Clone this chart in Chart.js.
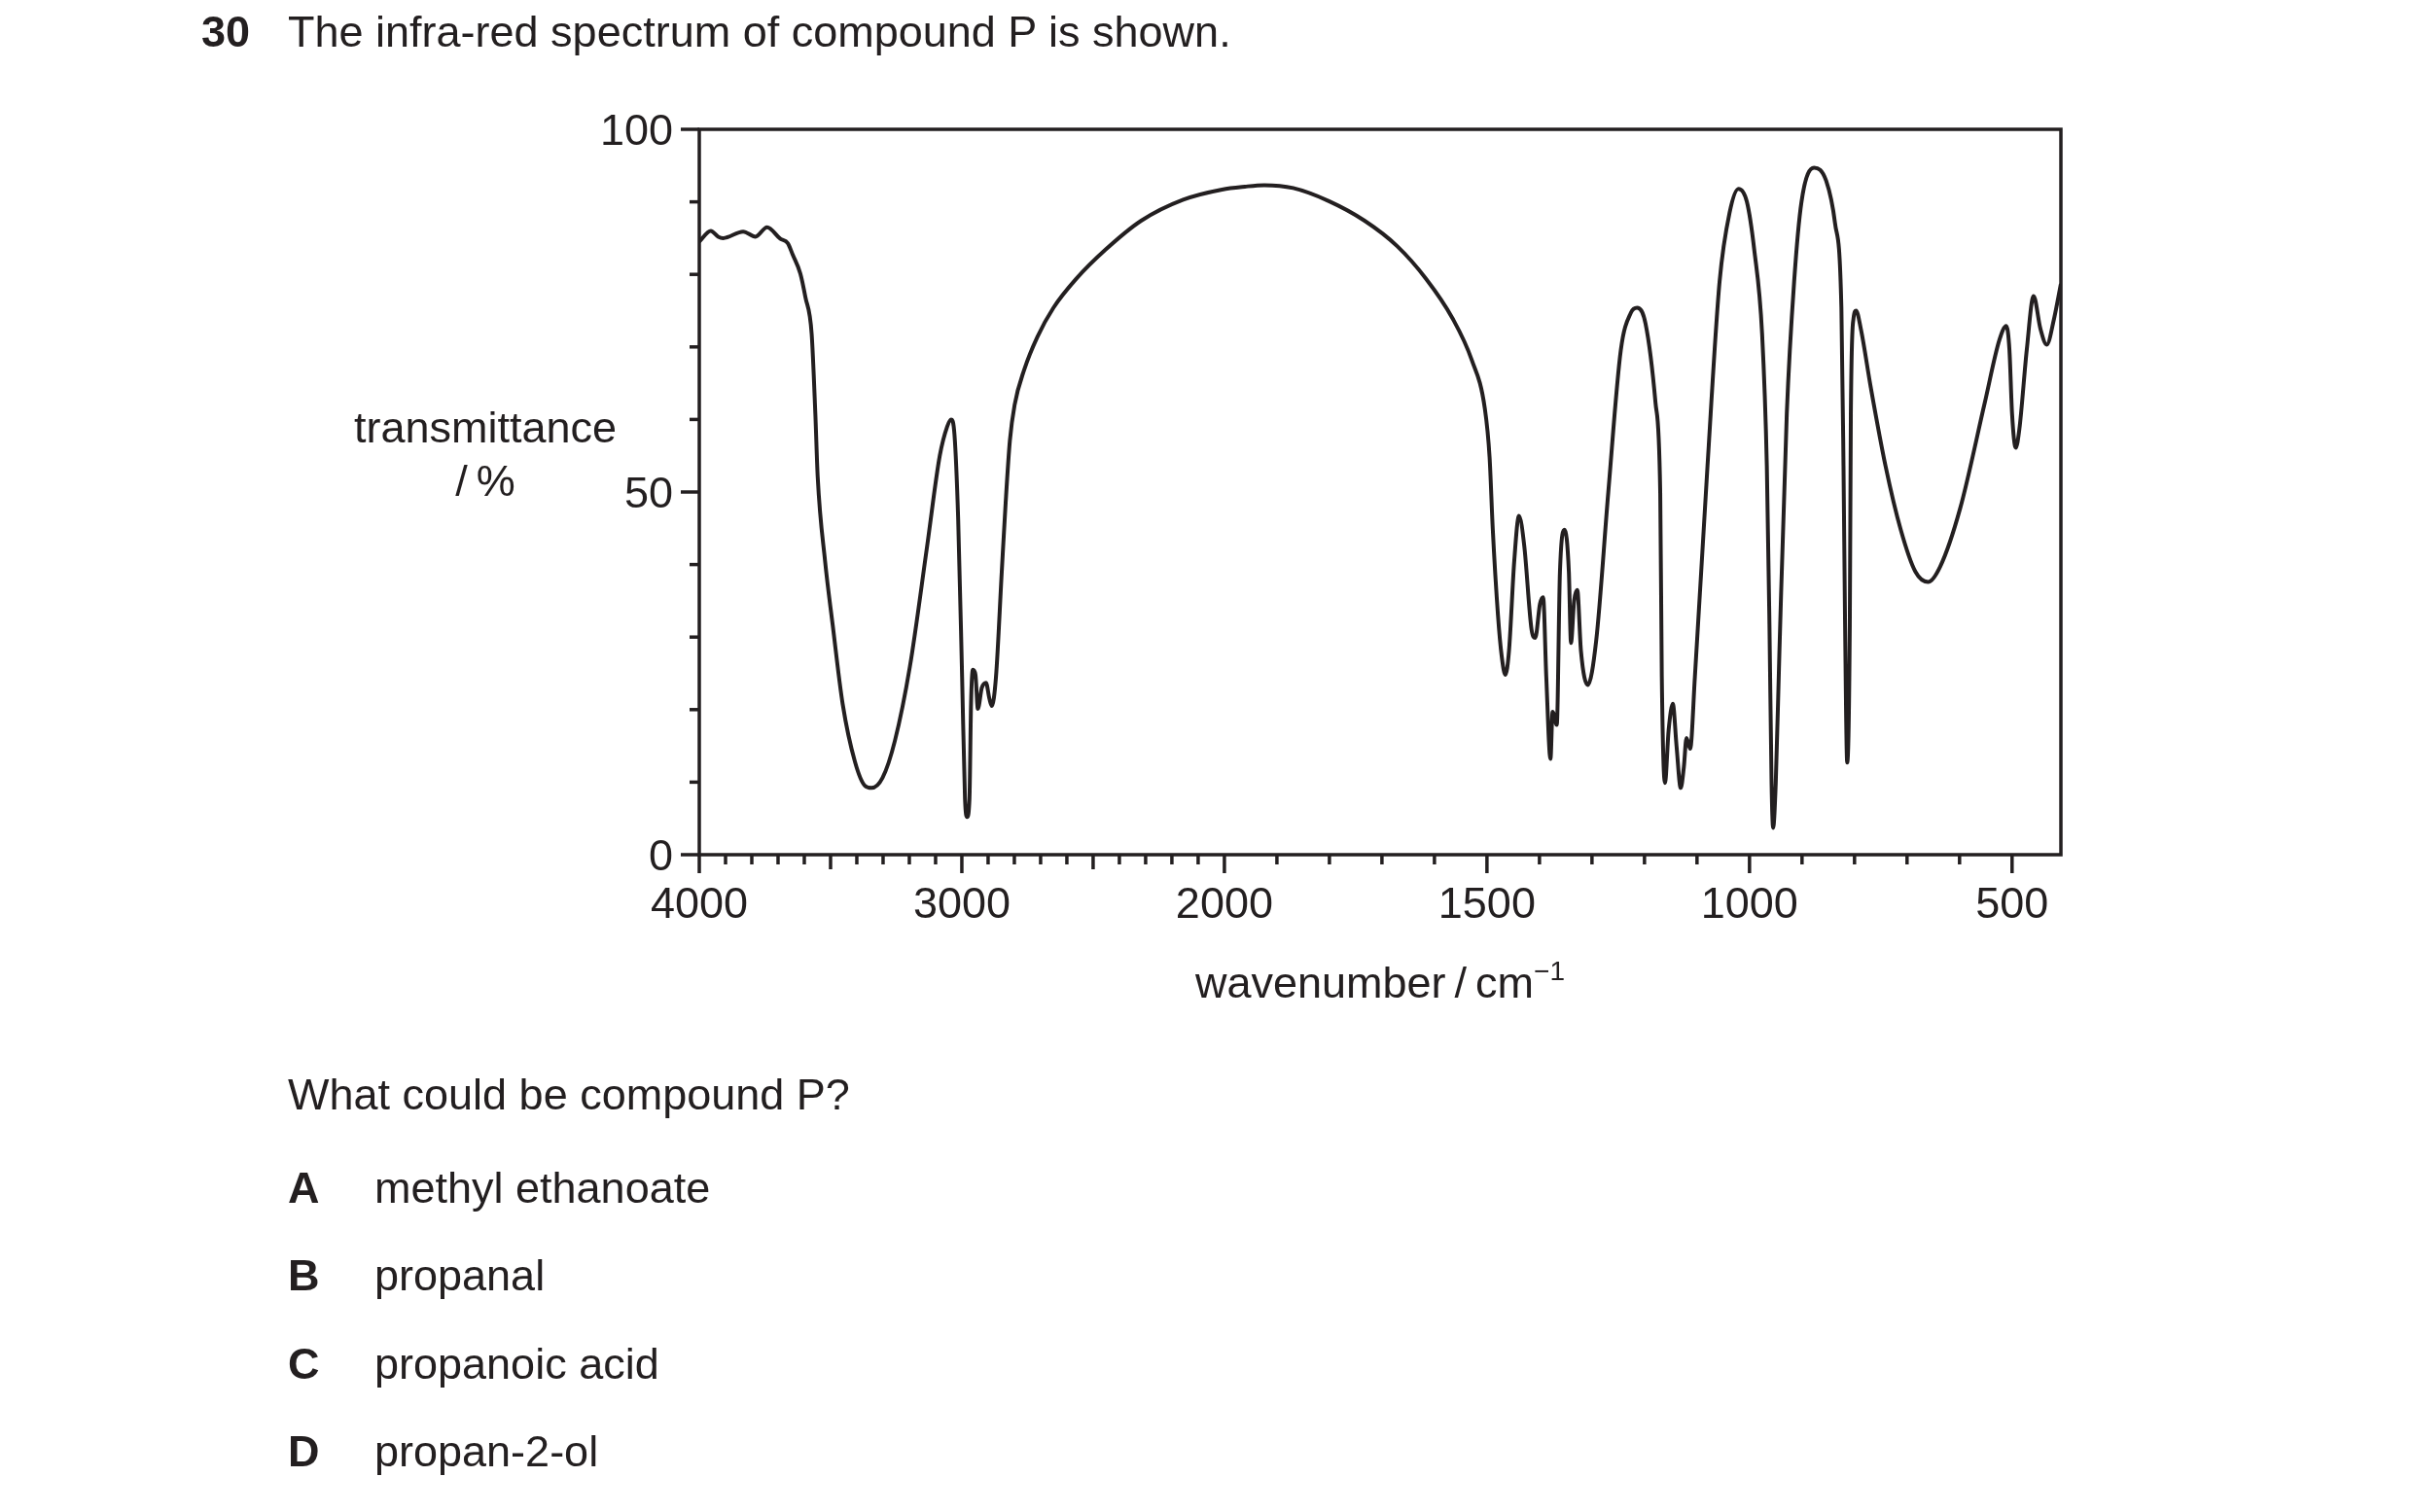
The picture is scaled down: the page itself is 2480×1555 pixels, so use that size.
<!DOCTYPE html>
<html lang="en">
<head>
    <meta charset="UTF-8">
    <title>Infra-red spectrum of compound P</title>
    <script src="https://cdn.jsdelivr.net/npm/chart.js@4.4.1/dist/chart.umd.min.js"></script>
    <style>
        body { margin: 0; background: #fff; color: #231f20; font-family: Arial, "Liberation Sans", sans-serif; }
        .page { position: relative; width: 2480px; height: 1555px; overflow: hidden; }
        #chartBox { position: absolute; left: 0; top: 0; width: 2480px; height: 1555px; }
        .txt { position: absolute; font-size: 45px; line-height: 1; white-space: nowrap; }
        .b { font-weight: bold; }
        .c { text-align: center; }
        sup { font-size: 28px; vertical-align: 0; position: relative; top: -18px; }
    </style>
</head>
<body>
<div class="page">
    <div id="chartBox"><canvas id="irChart"></canvas></div>

    <div class="txt b" style="left:207px; top:10px;">30</div>
    <div class="txt" style="left:296px; top:10px;">The infra-red spectrum of compound P is shown.</div>

    <div class="txt c" style="left:349px; top:417px; width:300px;">transmittance</div>
    <div class="txt c" style="left:349px; top:472px; width:300px;">/&thinsp;%</div>
    <div class="txt c" style="left:1119px; top:988px; width:600px;">wavenumber&thinsp;/&thinsp;cm<sup>&minus;1</sup></div>

    <div class="txt" style="left:296px; top:1103px;">What could be compound P?</div>
    <div class="txt b" style="left:296px; top:1199px;">A</div>
    <div class="txt" style="left:385px; top:1199px;">methyl ethanoate</div>
    <div class="txt b" style="left:296px; top:1289px;">B</div>
    <div class="txt" style="left:385px; top:1289px;">propanal</div>
    <div class="txt b" style="left:296px; top:1380px;">C</div>
    <div class="txt" style="left:385px; top:1380px;">propanoic acid</div>
    <div class="txt b" style="left:296px; top:1470px;">D</div>
    <div class="txt" style="left:385px; top:1470px;">propan-2-ol</div>
</div>

<script>
    const ink = '#231f20';

    // spectrum (cm-1, %)
    const wavenumber = [
        4000, 3956, 3928, 3909, 3833, 3786, 3742, 3691, 3663, 3644,
        3615, 3596, 3572, 3558, 3549, 3521, 3492, 3454, 3407, 3369,
        3344, 3302, 3255, 3198, 3132, 3084, 3056, 3041, 3028, 3014,
        2999, 2988, 2980, 2971, 2965, 2958, 2948, 2939, 2924, 2908,
        2895, 2886, 2870, 2848, 2833, 2817, 2799, 2762, 2712, 2651,
        2564, 2453, 2317, 2157, 2009, 1961, 1924, 1869, 1801, 1733,
        1671, 1616, 1566, 1529, 1504, 1495, 1489, 1479, 1472, 1465,
        1458, 1448, 1439, 1429, 1415, 1408, 1399, 1393, 1387, 1379,
        1375, 1367, 1361, 1352, 1344, 1340, 1334, 1328, 1321, 1308,
        1292, 1269, 1245, 1226, 1214, 1198, 1179, 1170, 1167, 1161,
        1154, 1146, 1139, 1131, 1125, 1120, 1113, 1104, 1080, 1057,
        1038, 1021, 1005, 991, 976, 967, 962, 958, 955, 950,
        943, 929, 915, 901, 877, 854, 837, 825, 821, 818,
        814, 809, 807, 802, 797, 788, 769, 741, 712, 684,
        660, 637, 599, 552, 524, 511, 505, 500, 493, 486,
        472, 459, 446, 434, 420, 407
    ];
    const transmittance = [
        84.5, 86.0, 85.2, 85.0, 85.9, 85.2, 86.5, 84.9, 84.3, 82.7,
        80.1, 76.9, 71.8, 60.8, 52.1, 40.5, 31.7, 20.8, 12.8, 9.5,
        9.2, 10.6, 15.7, 25.9, 42.6, 55.0, 59.0, 60.0, 57.9, 46.3,
        24.5, 7.7, 5.2, 7.7, 20.8, 25.5, 24.8, 20.1, 23.0, 23.7,
        21.5, 20.5, 24.5, 39.0, 48.6, 57.1, 62.0, 66.9, 71.4, 75.4,
        79.4, 83.4, 87.4, 90.3, 91.7, 92.1, 92.3, 91.9, 90.1, 87.4,
        83.9, 79.4, 74.0, 68.2, 61.5, 54.8, 45.0, 33.0, 27.4, 24.8,
        28.1, 40.5, 46.7, 42.6, 31.0, 29.9, 34.6, 35.5, 24.5, 13.2,
        19.7, 17.9, 39.0, 44.8, 39.0, 29.2, 35.0, 36.5, 28.1, 23.4,
        29.5, 49.9, 69.6, 74.7, 75.4, 73.2, 62.3, 49.9, 24.5, 9.9,
        17.2, 20.8, 15.0, 9.2, 12.1, 16.1, 14.6, 24.5, 53.6, 79.0,
        88.5, 91.8, 90.0, 83.4, 71.8, 53.6, 31.7, 9.9, 3.7, 9.9,
        28.1, 60.8, 79.0, 90.0, 94.7, 92.9, 87.0, 75.4, 53.6, 31.7,
        12.7, 31.7, 60.8, 73.9, 75.0, 72.5, 64.4, 53.6, 44.8, 39.0,
        37.6, 39.7, 47.7, 62.3, 71.0, 72.9, 69.6, 60.8, 56.1, 58.7,
        69.6, 77.0, 72.5, 70.3, 73.9, 78.7
    ];

    const xLabels = [4000, 3000, 2000, 1500, 1000, 500];
    const xMidTicks = [3500, 2500];
    const yLabels = [0, 50, 100];
    const xStart = 4000;
    const xEnd = 407;

    // axis scale halves at 2000 cm-1
    function toAxis(w) { return w >= 2000 ? (4000 - w) / 1000 : 2 + (2000 - w) / 500; }
    function fromAxis(u) { return u <= 2 ? 4000 - u * 1000 : 2000 - (u - 2) * 500; }

    const xTicks = [];
    for (let w = 4000; w >= 500; w -= 100) xTicks.push(w);
    const yTicks = [];
    for (let v = 0; v <= 100; v += 10) yTicks.push(v);

    const tickMarks = {
        id: 'tickMarks',
        afterDraw(chart) {
            const { ctx, chartArea: a, scales: { x, y } } = chart;
            ctx.save();
            ctx.strokeStyle = ink;
            ctx.lineWidth = 3.5;
            ctx.strokeRect(a.left, a.top, a.right - a.left, a.bottom - a.top);
            xTicks.forEach(w => {
                const px = x.getPixelForValue(toAxis(w));
                const len = xLabels.includes(w) ? 19 : xMidTicks.includes(w) ? 15 : 10;
                ctx.beginPath();
                ctx.moveTo(px, a.bottom);
                ctx.lineTo(px, a.bottom + len);
                ctx.stroke();
            });
            yTicks.forEach(v => {
                const py = y.getPixelForValue(v);
                const len = yLabels.includes(v) ? 19 : 10;
                ctx.beginPath();
                ctx.moveTo(a.left, py);
                ctx.lineTo(a.left - len, py);
                ctx.stroke();
            });
            ctx.restore();
        }
    };

    const tickFont = { family: 'Arial, "Liberation Sans", sans-serif', size: 45 };
    const hiddenGrid = { display: true, drawOnChartArea: false, color: 'transparent', tickColor: 'transparent', tickLength: 19 };

    new Chart(document.getElementById('irChart'), {
        type: 'scatter',
        data: {
            datasets: [{
                data: wavenumber.map((w, i) => ({ x: toAxis(w), y: transmittance[i] })),
                showLine: true,
                borderColor: ink,
                borderWidth: 4,
                pointRadius: 0,
                cubicInterpolationMode: 'monotone',
                fill: false
            }]
        },
        options: {
            responsive: true,
            maintainAspectRatio: false,
            animation: false,
            layout: { padding: { left: 600, top: 133, right: 361, bottom: 576 } },
            plugins: { legend: { display: false }, tooltip: { enabled: false } },
            scales: {
                x: {
                    type: 'linear',
                    min: toAxis(xStart),
                    max: toAxis(xEnd),
                    grid: hiddenGrid,
                    border: { display: false },
                    afterBuildTicks: scale => { scale.ticks = xTicks.map(w => ({ value: toAxis(w) })); },
                    afterFit: scale => { scale.height = 100; },
                    ticks: {
                        autoSkip: false,
                        maxRotation: 0,
                        padding: 7,
                        color: ink,
                        font: tickFont,
                        callback: value => {
                            const w = Math.round(fromAxis(value));
                            return xLabels.includes(w) ? String(w) : '';
                        }
                    }
                },
                y: {
                    min: 0,
                    max: 100,
                    grid: hiddenGrid,
                    border: { display: false },
                    afterFit: scale => { scale.width = 119; },
                    ticks: {
                        stepSize: 10,
                        padding: 8,
                        labelOffset: 4,
                        color: ink,
                        font: tickFont,
                        callback: value => yLabels.includes(value) ? String(value) : ''
                    }
                }
            }
        },
        plugins: [tickMarks]
    });
</script>
</body>
</html>
